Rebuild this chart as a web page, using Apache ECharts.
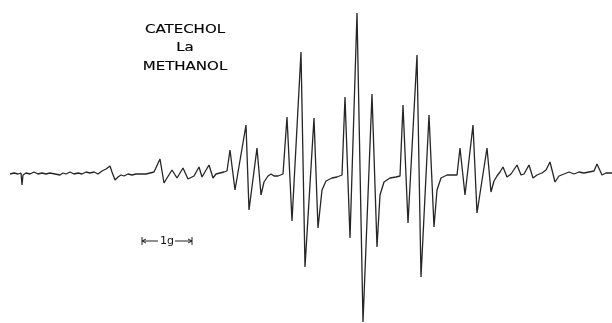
<!DOCTYPE html>
<html>
<head>
<meta charset="utf-8">
<script src="https://cdn.jsdelivr.net/npm/echarts@6/dist/echarts.min.js"></script>
<style>
  html, body { margin: 0; padding: 0; background: #fff; }
  #epr { width: 612px; height: 323px; }
</style>
</head>
<body>
<div id="epr"></div>
<script>
// field position (arbitrary sweep units) and derivative signal
const field = [
  10, 14, 18, 21, 22, 23, 26, 30, 34, 38, 42, 46, 50, 55, 60, 63, 66, 70, 74, 78,
  82, 86, 90, 94, 98, 102, 106, 110, 112, 115, 118, 121, 124, 128, 132, 136, 141, 146, 150, 154,
  160, 164, 167, 172, 177, 183, 188, 194, 199, 202, 209, 213, 216, 220, 224, 227,
  230, 235, 246, 249, 257, 261, 264, 268, 271, 274, 278, 283,
  287, 292, 301, 305, 314, 318, 322, 326, 332, 337, 342,
  345, 350, 357, 363, 372, 377, 380, 384, 390, 396, 400,
  403, 408, 417, 421, 429, 434, 437, 441, 447, 452, 457,
  460, 465, 473, 477, 487, 491, 494, 497, 500,
  503, 507, 511, 517, 521, 524, 529, 533, 537, 542, 546, 550, 555, 559, 564, 569,
  574, 579, 584, 589, 594, 597, 602, 606, 612
];
const signal = [
  -1, 0, -1, 0, -12, -2, 0, -1, 1, -1, 0, -1, 0, -1, -2, 0, -1, 1, -1, 0,
  -1, 1, 0, 1, -1, 2, 4, 7, 1, -7, -4, -2, -3, -1, -2, -1, -1, -1, 0, 1,
  14, -10, -5, 3, -5, 5, -6, -3, 6, -4, 8, -5, -1, 0, 1, 2,
  23, -17, 48, -37, 25, -22, -9, -3, -1, -3, -3, -1,
  56, -48, 121, -94, 55, -55, -17, -8, -5, -4, -2,
  76, -65, 160, -149, 79, -74, -22, -9, -5, -4, -3,
  68, -50, 118, -104, 58, -54, -17, -5, -2, -2, -2,
  25, -22, 48, -40, 25, -19, -8, -3, 1,
  6, -4, -1, 8, -2, -1, 8, -5, -2, 0, 3, 11, -9, -3, -1, 1,
  -1, 1, 0, 1, 2, 9, -2, 0, 0
];

const titleLines = ["CATECHOL", "La", "METHANOL"];
const scaleBarField = [142, 192];
const scaleBarLevel = -68;
const scaleBarLabel = "1g";

const chart = echarts.init(document.getElementById("epr"));

chart.setOption({
  animation: false,
  backgroundColor: "#fff",
  grid: { left: 0, right: 0, top: 0, bottom: 0 },
  xAxis: { type: "value", min: 0, max: 612, show: false },
  yAxis: { type: "value", min: -150, max: 173, show: false },
  series: [
    {
      type: "line",
      data: field.map((f, i) => [f, signal[i]]),
      showSymbol: false,
      silent: true,
      lineStyle: { color: "#262626", width: 1.3 },
    },
  ],
});

// text and 1 g scale bar placed through the chart's own coordinate system
const [x0, yBar] = chart.convertToPixel({ gridIndex: 0 }, [scaleBarField[0], scaleBarLevel]);
const [x1] = chart.convertToPixel({ gridIndex: 0 }, [scaleBarField[1], scaleBarLevel]);
const mid = (x0 + x1) / 2;
const barStyle = { stroke: "#222", lineWidth: 1 };

const graphics = titleLines.map((t, i) => ({
  type: "text",
  x: 185,
  y: 29.5 + i * 18.5,
  scaleX: 1.25,
  style: {
    text: t,
    font: '12px "DejaVu Sans"',
    textAlign: "center",
    textVerticalAlign: "middle",
    fill: "#000",
    stroke: "#000",
    lineWidth: 0.15,
  },
}));

graphics.push(
  { type: "line", shape: { x1: x0, y1: yBar - 4, x2: x0, y2: yBar + 4 }, style: barStyle },
  { type: "line", shape: { x1: x1, y1: yBar - 4, x2: x1, y2: yBar + 4 }, style: barStyle },
  { type: "line", shape: { x1: x0, y1: yBar, x2: mid - 9, y2: yBar }, style: barStyle },
  { type: "line", shape: { x1: mid + 8, y1: yBar, x2: x1, y2: yBar }, style: barStyle },
  { type: "polyline", shape: { points: [[x0 + 4, yBar - 2], [x0, yBar], [x0 + 4, yBar + 2]] }, style: barStyle },
  { type: "polyline", shape: { points: [[x1 - 4, yBar - 2], [x1, yBar], [x1 - 4, yBar + 2]] }, style: barStyle },
  {
    type: "text",
    x: mid,
    y: yBar,
    style: {
      text: scaleBarLabel,
      font: '11px "DejaVu Sans"',
      textAlign: "center",
      textVerticalAlign: "middle",
      fill: "#111",
    },
  }
);

chart.setOption({ graphic: graphics });
</script>
</body>
</html>
